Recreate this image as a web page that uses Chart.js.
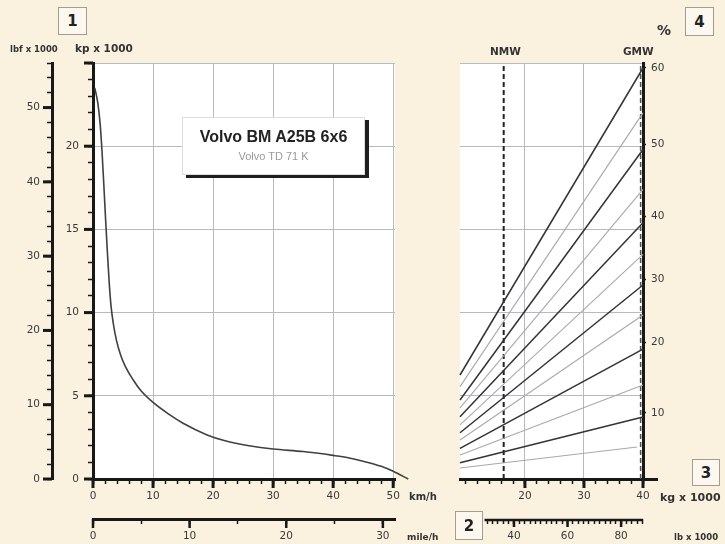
<!DOCTYPE html>
<html><head><meta charset="utf-8">
<script src="https://cdn.jsdelivr.net/npm/chart.js@4"></script>
<style>
html,body{margin:0;padding:0;background:#FAF2DF;}
#wrap{position:relative;width:725px;height:544px;overflow:hidden;font-family:"DejaVu Sans",sans-serif;color:#333;}
canvas{position:absolute;top:0;}
#c1{left:0;}
#c2{left:455px;}
.t{position:absolute;white-space:nowrap;line-height:1;color:#333;}
.box{position:absolute;border:1px solid #a49d8e;background:#FCF8EF;font:bold 15px "DejaVu Sans",sans-serif;color:#222;display:flex;align-items:center;justify-content:center;box-sizing:border-box;}
#title{position:absolute;left:182px;top:117px;width:183px;height:58px;background:#fff;box-shadow:4px 3px 0 #1e1e1e;border:1px solid #ddd;box-sizing:border-box;text-align:center;}
#title .a{font:bold 16px "Liberation Sans",Arial,sans-serif;color:#222;margin-top:10px;}
#title .b{font:11px "Liberation Sans",Arial,sans-serif;color:#9a9a9a;margin-top:4px;}
</style></head><body>
<div id="wrap">
<canvas id="c1" width="455" height="544" style="width:455px;height:544px"></canvas>
<canvas id="c2" width="270" height="544" style="width:270px;height:544px"></canvas>
<div class="box" style="left:58px;top:7px;width:29px;height:28px;">1</div>
<div class="t" style="left:10px;top:44px;font:bold 8.5px 'DejaVu Sans';">lbf x 1000</div>
<div class="t" style="left:75px;top:42px;font:bold 10.5px 'DejaVu Sans';">kp x 1000</div>
<div id="title"><div class="a">Volvo BM A25B 6x6</div><div class="b">Volvo TD 71 K</div></div>
<div class="t" style="left:409px;top:491px;font:bold 10px 'DejaVu Sans';">km/h</div>
<div class="t" style="left:407px;top:532px;font:bold 9px 'DejaVu Sans';">mile/h</div>
<div class="box" style="left:455px;top:511px;width:28px;height:29px;">2</div>
<div class="box" style="left:692px;top:459px;width:28px;height:27px;">3</div>
<div class="box" style="left:685px;top:7px;width:29px;height:29px;">4</div>
<div class="t" style="left:657px;top:22px;font:bold 14px 'DejaVu Sans';">%</div>
<div class="t" style="left:490px;top:45px;font:bold 10.5px 'DejaVu Sans';">NMW</div>
<div class="t" style="left:623px;top:45px;font:bold 10.5px 'DejaVu Sans';">GMW</div>
<div class="t" style="left:660px;top:491px;font:bold 11px 'DejaVu Sans';">kg x 1000</div>
<div class="t" style="left:674px;top:532px;font:bold 8.5px 'DejaVu Sans';">lb x 1000</div>
</div>
<script>
// ---------- data ----------
const speedKmh   = [0.3, 0.8, 1.2, 1.5, 1.8, 2.1, 2.4, 2.7, 3.0, 3.4, 3.9, 4.6, 5.4, 6.7, 8.0, 10, 12.8, 15, 19, 22, 26, 30, 35, 40, 42.5, 45, 48, 50, 52.5];
const tractiveKp = [23.5, 22.6, 21.3, 19.7, 17.7, 15.6, 13.6, 11.8, 10.4, 9.3, 8.35, 7.45, 6.75, 5.95, 5.3, 4.6, 3.85, 3.35, 2.65, 2.3, 2.0, 1.8, 1.65, 1.42, 1.28, 1.07, 0.76, 0.46, 0];

const kmhTicks  = [0,2,4,6,8,10,12,14,16,18,20,22,24,26,28,30,32,34,36,38,40,42,44,46,48,50];
const kmhLabels = [0,10,20,30,40,50];
const mphTicks  = [0,5,10,15,20,25,30];
const mphLabels = [0,10,20,30];
const kpTicks   = [0,1,2,3,4,5,6,7,8,9,10,11,12,13,14,15,16,17,18,19,20,21,22,23,24,25];
const kpLabels  = [0,5,10,15,20];
const lbfTicks  = [0,2,4,6,8,10,12,14,16,18,20,22,24,26,28,30,32,34,36,38,40,42,44,46,48,50,52,54,56];
const lbfLabels = [0,10,20,30,40,50];

const kgTicks   = [10,12,14,16,18,20,22,24,26,28,30,32,34,36,38,40];
const kgLabels  = [20,30,40];
const kgGrid    = [20,30];
const lbTicks   = [30,32,34,36,38,40,42,44,46,48,50,52,54,56,58,60,62,64,66,68,70,72,74,76,78,80,82,84,86,88];
const lbLabels  = [40,60,80];

const gradePct      = [5,10,15,20,25,30,35,40,45,50,55,60];
const gradeStartKg  = [9,9,9,9,9,9,9,9,9,9,9,9];
const gradeStartKp  = [0.66,0.98,1.44,1.84,2.34,2.78,3.25,3.74,4.27,4.75,5.55,6.25];
const gradeEndKg    = [39,40,40,40,40,40,40,40,40,40,40,40];
const gradeEndKp    = [1.92,3.73,5.65,7.81,9.86,11.66,13.5,15.4,17.4,19.8,22.0,24.7];
const pctTickKp     = [3.97,8.2,12.0,15.8,20.1,24.7];
const pctTickLabels = ['10','20','30','40','50','60'];
const nmwKg = 16.4;
const gmwKg = 39.6;

// ---------- helpers ----------
const FONT = {family:'DejaVu Sans', size:10.5};
const TXT = '#3a3a3a';
const GRID = '#b9b9c0';
const INK = '#181818';
const has = (arr, v) => arr.some(a => Math.abs(a - v) < 1e-6);
const setTicks = arr => s => { s.ticks = arr.map(v => ({value: v})); };

const plotBg = {
  id:'plotBg',
  beforeDraw(chart){
    const {ctx, chartArea:a} = chart;
    ctx.save(); ctx.fillStyle = '#FFFFFF';
    ctx.fillRect(a.left, a.top, a.right - a.left, a.bottom - a.top);
    ctx.restore();
  }
};

// longer / heavier marks for the major ticks, placed through the scales
function majorTicks(spec){
  return {
    id:'majorTicks',
    afterDraw(chart){
      const ctx = chart.ctx; ctx.save(); ctx.strokeStyle = INK; ctx.lineCap = 'butt';
      for (const id in spec){
        const s = chart.scales[id]; const sp = spec[id];
        ctx.lineWidth = sp.width;
        s.ticks.forEach(t => {
          if (!has(sp.values, t.value)) return;
          const p = s.getPixelForValue(t.value);
          ctx.beginPath();
          if (s.isHorizontal()){ ctx.moveTo(p, s.top); ctx.lineTo(p, s.top + sp.len); }
          else if (s.position === 'left'){ ctx.moveTo(s.right, p); ctx.lineTo(s.right - sp.len, p); }
          else { ctx.moveTo(s.left, p); ctx.lineTo(s.left + sp.len, p); }
          ctx.stroke();
        });
        if (sp.line){
          ctx.lineWidth = 2.5; ctx.beginPath();
          ctx.moveTo(s.getPixelForValue(sp.line[0]), s.top + 1);
          ctx.lineTo(s.getPixelForValue(sp.line[1]), s.top + 1);
          ctx.stroke();
        }
        if (sp.extend){
          ctx.lineWidth = 3; ctx.beginPath();
          ctx.moveTo(s.right - 2, s.top + 0.5); ctx.lineTo(s.right + sp.extend, s.top + 0.5); ctx.stroke();
        }
      }
      ctx.restore();
    }
  };
}

function axis(o){
  return Object.assign({
    type:'linear',
    afterBuildTicks: setTicks(o.tickVals),
    ticks:{
      autoSkip:false, maxRotation:0, font:FONT, color:TXT, padding:o.pad,
      callback: v => has(o.labels, v) ? String(v) : ''
    },
    grid:{
      drawOnChartArea: !!o.grid,
      color: c => (o.grid && c.tick && has(o.grid, c.tick.value)) ? GRID : 'rgba(0,0,0,0)',
      lineWidth: 1,
      tickColor: INK, tickLength: 5, tickWidth: 1.5
    },
    border:{display: o.border !== false, color: INK, width: 3}
  }, o.extra);
}

// ---------- left chart: tractive effort vs speed ----------
new Chart(document.getElementById('c1'), {
  type:'line',
  data:{datasets:[{
    data: speedKmh.map((v,i) => ({x:v, y:tractiveKp[i]})),
    borderColor:'#404040', borderWidth:1.6, pointRadius:0,
    cubicInterpolationMode:'monotone', clip:false, xAxisID:'x', yAxisID:'y'
  }]},
  options:{
    responsive:false, animation:false, events:[],
    layout:{padding:{top:63, right:60, left:0, bottom:0}},
    plugins:{legend:{display:false}, tooltip:{enabled:false}},
    scales:{
      x: axis({tickVals:kmhTicks, labels:kmhLabels, grid:[10,20,30,40,50], pad:6,
        extra:{position:'bottom', min:0, max:50.3, weight:0, afterFit: s => { s.height = 40; }}}),
      mph: axis({tickVals:mphTicks, labels:mphLabels, pad:6,
        extra:{position:'bottom', min:0, max:50.3/1.60934, weight:1, afterFit: s => { s.height = 25; }}}),
      y: axis({tickVals:kpTicks, labels:kpLabels, grid:[5,10,15,20,25], pad:9,
        extra:{position:'left', min:0, max:25, weight:0, afterFit: s => { s.width = 41; }}}),
      lbf: axis({tickVals:lbfTicks, labels:lbfLabels, pad:7,
        extra:{position:'left', min:0, max:56, weight:1, afterFit: s => { s.width = 52; }}})
    }
  },
  plugins:[plotBg, majorTicks({
    x:{values:kmhLabels, len:9, width:3},
    mph:{values:[0,10,20,30], len:9, width:2.5},
    y:{values:[0,5,10,15,20,25], len:9, width:3},
    lbf:{values:lbfLabels, len:9, width:3}
  })]
});

// ---------- right chart: grade resistance vs weight ----------
const gradeSets = gradePct.map((p,i) => {
  const thick = p % 10 === 0;
  return {
    data:[{x:gradeStartKg[i], y:gradeStartKp[i]}, {x:gradeEndKg[i], y:gradeEndKp[i]}],
    borderColor: thick ? '#333333' : '#a8a8ae',
    borderWidth: thick ? 1.5 : 1.1,
    pointRadius:0, xAxisID:'x', yAxisID:'y', clip:false
  };
});
const vline = (kg, col, w) => ({
  data:[{x:kg, y:0}, {x:kg, y:25}], borderColor:col, borderWidth:w,
  borderDash:[5,3], pointRadius:0, xAxisID:'x', yAxisID:'y'
});

new Chart(document.getElementById('c2'), {
  type:'line',
  data:{datasets:[...gradeSets, vline(nmwKg, '#222', 2), vline(gmwKg, '#555', 1.6)]},
  options:{
    responsive:false, animation:false, events:[],
    layout:{padding:{top:63, right:0, left:5, bottom:0}},
    plugins:{legend:{display:false}, tooltip:{enabled:false}},
    scales:{
      x: axis({tickVals:kgTicks, labels:kgLabels, grid:kgGrid, pad:6,
        extra:{position:'bottom', min:9, max:40, weight:0, afterFit: s => { s.height = 40; }}}),
      lb: axis({tickVals:lbTicks, labels:lbLabels, pad:6, border:false,
        extra:{position:'bottom', min:9*2.20462, max:40*2.20462, weight:1, afterFit: s => { s.height = 25; }}}),
      y:{type:'linear', position:'left', min:0, max:25,
        afterBuildTicks: setTicks([0,5,10,15,20,25]),
        afterFit: s => { s.width = 0; },
        ticks:{display:false},
        grid:{color: GRID, lineWidth:1, drawTicks:false},
        border:{display:false}},
      pct:{type:'linear', position:'right', min:0, max:25,
        afterBuildTicks: setTicks(pctTickKp),
        afterFit: s => { s.width = 82; },
        ticks:{autoSkip:false, font:FONT, color:TXT, padding:5,
          callback: (v, i) => pctTickLabels[i]},
        grid:{drawOnChartArea:false, tickColor:INK, tickLength:3, tickWidth:1.5},
        border:{color:INK, width:3}}
    }
  },
  plugins:[plotBg, majorTicks({
    x:{values:[20,30,40], len:9, width:3, extend:15},
    lb:{values:[40,60,80], len:8, width:2.5, line:[29, 88.2]}
  })]
});
</script>
</body></html>
